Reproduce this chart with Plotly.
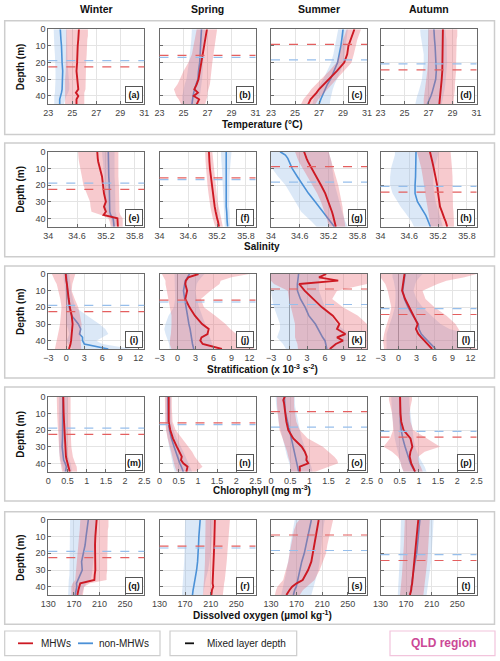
import plotly.graph_objects as go
from plotly.subplots import make_subplots

W, H = 500, 661

depth = [0, 2, 4, 6, 10, 15, 20, 25, 30, 33, 36, 38, 40, 42, 45]
seasons = ["Winter", "Spring", "Summer", "Autumn"]
panel_tags = "abcdefghijklmnopqrst"

# mixed layer depth (m) per season
mld_mhw = [22.6, 15.7, 9.0, 24.3]
mld_non = [18.8, 16.8, 18.3, 20.8]

# ---- temperature (degC)
temp_mhw = [
    [25.55, 25.55, 25.5, 25.5, 25.45, 25.45, 25.4, 25.35, 25.4, 25.45, 25.5, 25.3, 25.5, 25.35, 25.35],
    [26.95, 26.9, 26.85, 26.8, 26.7, 26.6, 26.5, 26.35, 26.25, 26.1, 25.9, 26.2, 25.85, 26.3, 26.1],
    [29.95, 29.85, 29.75, 29.65, 29.45, 29.35, 29.1, 28.5, 27.8, 27.4, 27.0, 26.8, 26.55, 26.3, 26.1],
    [28.2, 28.2, 28.2, 28.2, 28.2, 28.2, 28.2, 28.15, 28.1, 28.05, 28.0, 28.0, 27.95, 27.95, 27.9],
]
temp_mhw_lo = [
    [24.5, 24.5, 24.5, 24.5, 24.5, 24.5, 24.45, 24.45, 24.4, 24.4, 24.4, 24.4, 24.4, 24.4, 24.4],
    [26.1, 26.05, 26.0, 25.95, 25.85, 25.7, 25.4, 25.0, 24.7, 24.5, 24.2, 24.3, 24.4, 24.6, 24.8],
    [29.3, 29.2, 29.1, 29.0, 28.85, 28.7, 28.45, 27.85, 27.15, 26.75, 26.35, 26.15, 25.95, 25.7, 25.5],
    [27.0, 27.0, 27.0, 27.0, 27.0, 27.0, 26.95, 26.9, 26.8, 26.75, 26.7, 26.7, 26.65, 26.6, 26.6],
]
temp_mhw_hi = [
    [26.3, 26.3, 26.3, 26.25, 26.2, 26.2, 26.15, 26.1, 26.1, 26.1, 26.1, 26.0, 26.05, 26.0, 26.0],
    [27.8, 27.8, 27.75, 27.7, 27.6, 27.5, 27.4, 27.3, 27.25, 27.2, 27.1, 27.0, 27.0, 26.9, 26.8],
    [30.5, 30.4, 30.3, 30.2, 30.05, 29.9, 29.7, 29.1, 28.45, 28.05, 27.65, 27.45, 27.2, 26.95, 26.7],
    [29.4, 29.4, 29.4, 29.35, 29.35, 29.3, 29.3, 29.3, 29.25, 29.2, 29.2, 29.15, 29.15, 29.1, 29.1],
]
temp_non = [
    [24.0, 24.0, 24.0, 24.05, 24.1, 24.1, 24.15, 24.2, 24.2, 24.2, 24.15, 24.1, 24.0, 23.95, 23.95],
    [26.5, 26.5, 26.48, 26.45, 26.42, 26.4, 26.35, 26.25, 26.2, 26.05, 25.9, 25.85, 25.8, 25.75, 25.7],
    [29.0, 28.98, 28.95, 28.9, 28.82, 28.7, 28.55, 28.25, 27.95, 27.7, 27.5, 27.35, 27.25, 27.15, 27.0],
    [27.45, 27.45, 27.45, 27.5, 27.55, 27.6, 27.65, 27.65, 27.6, 27.5, 27.4, 27.3, 27.2, 27.1, 26.9],
]
temp_non_lo = [
    [23.45, 23.45, 23.45, 23.5, 23.5, 23.55, 23.6, 23.6, 23.6, 23.6, 23.6, 23.55, 23.5, 23.5, 23.5],
    [25.7, 25.7, 25.7, 25.65, 25.6, 25.55, 25.45, 25.35, 25.25, 25.1, 25.0, 24.95, 24.9, 24.9, 24.9],
    [28.6, 28.55, 28.5, 28.45, 28.35, 28.2, 28.0, 27.7, 27.35, 27.1, 26.9, 26.75, 26.65, 26.55, 26.45],
    [26.3, 26.3, 26.35, 26.4, 26.5, 26.6, 26.6, 26.55, 26.45, 26.35, 26.25, 26.15, 26.05, 26.0, 25.9],
]
temp_non_hi = [
    [24.55, 24.55, 24.55, 24.55, 24.55, 24.6, 24.6, 24.65, 24.7, 24.75, 24.75, 24.65, 24.5, 24.4, 24.3],
    [26.8, 26.8, 26.8, 26.75, 26.75, 26.7, 26.65, 26.6, 26.55, 26.5, 26.45, 26.4, 26.35, 26.3, 26.3],
    [29.4, 29.4, 29.35, 29.3, 29.25, 29.15, 29.05, 28.8, 28.5, 28.3, 28.15, 28.05, 28.0, 27.95, 27.9],
    [28.4, 28.4, 28.45, 28.5, 28.5, 28.55, 28.55, 28.5, 28.45, 28.4, 28.35, 28.3, 28.25, 28.2, 28.1],
]

# ---- salinity
sal_mhw = [
    [35.02, 35.02, 35.03, 35.04, 35.07, 35.12, 35.14, 35.16, 35.2, 35.16, 35.2, 35.15, 35.44, 35.45, 35.45],
    [35.03, 35.03, 35.04, 35.04, 35.05, 35.07, 35.09, 35.11, 35.13, 35.15, 35.17, 35.18, 35.2, 35.22, 35.24],
    [34.69, 34.71, 34.74, 34.77, 34.85, 34.94, 35.04, 35.13, 35.2, 35.23, 35.27, 35.29, 35.31, 35.33, 35.35],
    [35.03, 35.05, 35.06, 35.08, 35.11, 35.15, 35.18, 35.2, 35.22, 35.24, 35.28, 35.3, 35.33, 35.36, 35.39],
]
sal_mhw_lo = [
    [34.62, 34.62, 34.63, 34.64, 34.66, 34.7, 34.73, 34.8, 34.87, 34.88, 34.9, 35.1, 35.25, 35.28, 35.3],
    [34.95, 34.95, 34.96, 34.96, 34.97, 34.98, 35.0, 35.02, 35.04, 35.06, 35.08, 35.09, 35.11, 35.13, 35.16],
    [34.5, 34.52, 34.55, 34.58, 34.66, 34.76, 34.86, 34.96, 35.04, 35.08, 35.12, 35.14, 35.16, 35.18, 35.2],
    [34.76, 34.78, 34.8, 34.82, 34.85, 34.88, 34.9, 34.93, 34.96, 34.98, 35.0, 35.01, 35.02, 35.03, 35.04],
]
sal_mhw_hi = [
    [35.46, 35.46, 35.46, 35.46, 35.46, 35.46, 35.47, 35.47, 35.48, 35.48, 35.48, 35.5, 35.55, 35.55, 35.55],
    [35.1, 35.1, 35.11, 35.12, 35.13, 35.15, 35.17, 35.19, 35.21, 35.23, 35.25, 35.26, 35.28, 35.3, 35.32],
    [35.2, 35.22, 35.24, 35.26, 35.3, 35.35, 35.4, 35.44, 35.47, 35.49, 35.5, 35.51, 35.52, 35.53, 35.55],
    [35.46, 35.47, 35.48, 35.48, 35.49, 35.5, 35.5, 35.5, 35.51, 35.51, 35.52, 35.52, 35.53, 35.53, 35.53],
]
sal_non = [
    [35.25, 35.25, 35.25, 35.25, 35.26, 35.26, 35.27, 35.27, 35.28, 35.28, 35.28, 35.3, 35.35, 35.36, 35.37],
    [35.39, 35.39, 35.39, 35.39, 35.38, 35.38, 35.38, 35.38, 35.39, 35.39, 35.4, 35.4, 35.41, 35.41, 35.42],
    [34.19, 34.3, 34.35, 34.38, 34.44, 34.55, 34.67, 34.78, 34.92, 35.0, 35.08, 35.13, 35.18, 35.24, 35.32],
    [34.74, 34.74, 34.74, 34.74, 34.74, 34.73, 34.72, 34.72, 34.77, 34.84, 34.9, 34.94, 34.97, 35.0, 35.04],
]
sal_non_lo = [
    [35.12, 35.12, 35.13, 35.14, 35.15, 35.16, 35.17, 35.18, 35.18, 35.18, 35.2, 35.25, 35.3, 35.31, 35.32],
    [35.28, 35.28, 35.28, 35.29, 35.3, 35.31, 35.32, 35.33, 35.34, 35.34, 35.35, 35.35, 35.36, 35.36, 35.36],
    [34.0, 34.0, 34.0, 34.0, 34.02, 34.15, 34.3, 34.4, 34.5, 34.56, 34.63, 34.7, 34.78, 34.85, 34.95],
    [34.3, 34.3, 34.28, 34.26, 34.22, 34.2, 34.2, 34.25, 34.35, 34.42, 34.5, 34.55, 34.6, 34.65, 34.7],
]
sal_non_hi = [
    [35.38, 35.38, 35.38, 35.38, 35.38, 35.38, 35.39, 35.39, 35.4, 35.4, 35.4, 35.42, 35.42, 35.42, 35.42],
    [35.5, 35.5, 35.49, 35.48, 35.47, 35.46, 35.45, 35.45, 35.45, 35.45, 35.46, 35.46, 35.47, 35.47, 35.47],
    [35.2, 35.22, 35.24, 35.26, 35.28, 35.3, 35.33, 35.37, 35.42, 35.45, 35.48, 35.5, 35.52, 35.55, 35.6],
    [35.2, 35.2, 35.18, 35.16, 35.12, 35.1, 35.1, 35.12, 35.15, 35.18, 35.2, 35.22, 35.25, 35.27, 35.3],
]

# ---- stratification (x 10^-3 s^-2)
strat_mhw = [
    [-0.1, -0.1, 0.0, 0.1, 0.2, 0.4, 0.6, 0.9, 1.05, 1.0, 0.9, 0.85, 0.8, 0.7, 0.45],
    [3.5, 1.8, 1.4, 1.3, 1.6, 1.3, 2.0, 2.9, 4.1, 5.2, 5.0, 4.0, 3.8, 4.2, 7.4],
    [6.2, 5.0, 8.2, 1.7, 2.6, 4.0, 5.5, 7.3, 8.4, 8.0, 9.4, 8.0, 9.0, 7.8, 6.8],
    [1.0, 0.9, 0.8, 0.7, 0.6, 1.1, 1.8, 2.6, 3.2, 2.9, 3.3, 3.8, 4.3, 4.8, 5.6],
]
strat_mhw_lo = [
    [-2.4, -2.2, -1.9, -1.6, -1.3, -1.0, -0.8, -0.9, -1.05, -1.2, -1.4, -1.5, -1.6, -1.7, -1.9],
    [-2.6, -2.3, -2.0, -2.0, -1.8, -1.5, -1.2, -1.0, -1.0, -1.0, -1.1, -1.2, -1.3, -1.3, -1.0],
    [-3.0, -3.0, -3.0, -2.5, -0.2, 0.0, 0.3, 0.7, 1.0, 1.0, 1.0, 1.0, 1.2, 1.4, 1.5],
    [-3.0, -3.0, -2.6, -2.2, -1.8, -1.5, -1.2, -1.5, -2.0, -2.2, -2.4, -2.5, -2.6, -2.5, -2.4],
]
strat_mhw_hi = [
    [1.5, 1.4, 1.2, 1.0, 0.9, 1.4, 2.0, 2.3, 2.55, 2.5, 2.4, 2.35, 2.3, 2.4, 2.5],
    [12.0, 9.0, 7.2, 7.0, 5.5, 3.9, 4.4, 6.3, 8.0, 8.8, 9.8, 10.5, 11.2, 11.8, 12.8],
    [13.0, 13.0, 13.0, 13.0, 8.0, 7.2, 9.0, 11.5, 13.0, 13.0, 13.0, 13.0, 13.0, 13.0, 13.0],
    [13.0, 11.0, 8.0, 6.5, 4.0, 4.5, 6.0, 8.0, 9.5, 10.0, 10.5, 10.5, 11.0, 12.0, 13.0],
]
strat_non = [
    [0.0, 0.0, 0.05, 0.1, 0.2, 0.35, 0.5, 0.9, 2.0, 2.4, 2.2, 2.7, 2.7, 3.0, 7.0],
    [2.0, 1.6, 1.3, 1.2, 1.0, 1.2, 1.4, 1.6, 1.9, 2.1, 2.2, 2.3, 2.4, 2.5, 2.7],
    [1.6, 1.5, 1.4, 1.4, 1.4, 1.9, 2.7, 3.3, 4.4, 4.8, 5.3, 5.6, 6.0, 6.1, 6.3],
    [1.1, 1.0, 0.9, 0.8, 0.7, 1.0, 1.6, 2.4, 3.3, 3.4, 3.8, 4.3, 4.8, 5.3, 6.2],
]
strat_non_lo = [
    [-0.5, -0.5, -0.4, -0.3, -0.2, -0.1, 0.0, 0.0, 0.0, 0.3, 0.5, 0.3, 0.0, 0.3, 1.0],
    [-0.5, -0.5, -0.5, -0.5, -0.5, -0.4, -0.6, -1.5, -2.0, -2.2, -2.0, -1.8, -1.5, -1.4, -1.3],
    [-3.0, -3.0, -3.0, -3.0, -3.0, -2.8, -2.5, -2.0, -1.5, -1.5, -1.8, -2.0, -1.5, -1.0, -0.5],
    [-1.0, -1.0, -0.8, -0.7, -0.5, -0.5, -0.6, -1.0, -1.5, -1.8, -2.0, -2.0, -2.0, -2.0, -2.0],
]
strat_non_hi = [
    [0.5, 0.5, 0.6, 0.7, 0.8, 1.1, 1.5, 3.5, 5.5, 6.5, 7.0, 6.0, 5.0, 6.0, 11.0],
    [4.5, 4.0, 3.5, 3.2, 3.0, 3.2, 3.6, 4.0, 4.5, 4.8, 5.2, 5.4, 5.6, 5.8, 6.0],
    [6.0, 5.5, 5.0, 5.0, 5.0, 5.5, 6.0, 7.0, 8.0, 9.0, 10.0, 10.5, 11.0, 11.5, 12.0],
    [4.0, 3.5, 3.0, 2.8, 2.5, 3.0, 4.0, 5.5, 7.0, 8.5, 11.5, 12.0, 12.5, 12.5, 12.0],
]

# ---- chlorophyll (mg m^-3)
chl_mhw = [
    [0.39, 0.39, 0.39, 0.39, 0.4, 0.41, 0.42, 0.43, 0.44, 0.45, 0.46, 0.48, 0.5, 0.53, 0.56],
    [0.24, 0.24, 0.23, 0.23, 0.23, 0.24, 0.28, 0.35, 0.45, 0.52, 0.58, 0.56, 0.62, 0.73, 0.7],
    [0.36, 0.32, 0.34, 0.35, 0.36, 0.4, 0.45, 0.58, 0.8, 0.88, 0.93, 0.92, 0.97, 0.75, 0.75],
    [0.51, 0.51, 0.51, 0.51, 0.52, 0.54, 0.6, 0.78, 0.83, 0.78, 0.76, 0.78, 0.8, 0.84, 0.9],
]
chl_mhw_lo = [
    [0.22, 0.22, 0.22, 0.22, 0.23, 0.24, 0.25, 0.26, 0.27, 0.28, 0.29, 0.3, 0.32, 0.34, 0.36],
    [0.14, 0.14, 0.14, 0.14, 0.14, 0.15, 0.17, 0.21, 0.27, 0.3, 0.33, 0.35, 0.38, 0.4, 0.45],
    [0.15, 0.15, 0.15, 0.16, 0.18, 0.2, 0.22, 0.3, 0.38, 0.42, 0.45, 0.47, 0.5, 0.5, 0.5],
    [0.22, 0.22, 0.24, 0.26, 0.3, 0.32, 0.33, 0.25, 0.08, 0.3, 0.45, 0.5, 0.52, 0.55, 0.6],
]
chl_mhw_hi = [
    [0.58, 0.58, 0.58, 0.58, 0.58, 0.58, 0.58, 0.59, 0.6, 0.62, 0.64, 0.66, 0.7, 0.74, 0.75],
    [0.32, 0.32, 0.32, 0.32, 0.32, 0.34, 0.42, 0.58, 0.75, 0.85, 0.92, 0.98, 1.05, 1.12, 0.95],
    [0.6, 0.6, 0.6, 0.6, 0.62, 0.66, 0.75, 0.95, 1.35, 1.5, 1.65, 1.72, 1.75, 1.5, 1.15],
    [0.82, 0.82, 0.8, 0.78, 0.76, 0.78, 0.85, 1.2, 1.55, 1.15, 0.98, 0.98, 1.0, 1.05, 1.1],
]
chl_non = [
    [0.38, 0.38, 0.38, 0.38, 0.38, 0.38, 0.38, 0.37, 0.36, 0.37, 0.38, 0.4, 0.44, 0.47, 0.45],
    [0.22, 0.22, 0.22, 0.22, 0.22, 0.23, 0.26, 0.31, 0.38, 0.42, 0.47, 0.5, 0.53, 0.57, 0.62],
    [0.35, 0.35, 0.35, 0.36, 0.38, 0.42, 0.48, 0.53, 0.58, 0.61, 0.64, 0.66, 0.68, 0.7, 0.72],
    [0.51, 0.51, 0.51, 0.51, 0.51, 0.52, 0.54, 0.58, 0.64, 0.68, 0.72, 0.75, 0.78, 0.82, 0.9],
]
chl_non_lo = [
    [0.28, 0.28, 0.28, 0.28, 0.28, 0.28, 0.28, 0.27, 0.27, 0.28, 0.3, 0.32, 0.35, 0.38, 0.4],
    [0.16, 0.16, 0.16, 0.16, 0.16, 0.16, 0.18, 0.21, 0.25, 0.28, 0.3, 0.32, 0.34, 0.36, 0.4],
    [0.12, 0.12, 0.13, 0.14, 0.16, 0.2, 0.25, 0.3, 0.35, 0.38, 0.42, 0.45, 0.48, 0.5, 0.52],
    [0.28, 0.28, 0.28, 0.29, 0.3, 0.32, 0.34, 0.37, 0.42, 0.45, 0.48, 0.5, 0.52, 0.55, 0.6],
]
chl_non_hi = [
    [0.5, 0.5, 0.5, 0.5, 0.5, 0.5, 0.5, 0.49, 0.49, 0.5, 0.52, 0.55, 0.58, 0.6, 0.62],
    [0.3, 0.3, 0.3, 0.3, 0.3, 0.31, 0.36, 0.45, 0.55, 0.62, 0.68, 0.72, 0.76, 0.8, 0.85],
    [0.62, 0.62, 0.62, 0.63, 0.65, 0.7, 0.75, 0.8, 0.88, 0.93, 0.98, 1.0, 1.02, 1.05, 1.08],
    [0.75, 0.75, 0.75, 0.76, 0.78, 0.8, 0.83, 0.86, 0.9, 0.95, 1.0, 1.05, 1.1, 1.15, 1.2],
]

# ---- dissolved oxygen (umol kg^-1)
oxy_mhw = [
    [205.5, 205, 204.5, 204, 203.5, 203, 203, 204, 203.5, 202.5, 202, 180, 178, 177, 175.5],
    [216.5, 216.5, 216.5, 216.5, 216, 215.5, 215, 214.5, 214, 213.5, 213, 213, 214, 212, 211],
    [204.5, 203.5, 202.5, 202, 200, 197.5, 195.5, 193, 188, 184, 179.5, 170, 163, 159, 154],
    [189, 188.5, 188, 187.5, 187, 186, 184.5, 183, 181.5, 181, 180, 179.5, 178.5, 178, 176],
]
oxy_mhw_lo = [
    [180, 180, 180, 179, 178, 177, 176, 175, 174, 173, 172, 168, 166, 166, 166],
    [202, 202, 202, 202, 202, 202, 201.5, 201, 200.5, 200, 199.5, 199, 198.5, 198, 198],
    [174, 170, 168, 166, 164, 161, 159, 157, 154, 151, 149, 145, 140, 138, 136],
    [168, 168, 167.5, 167, 167, 166.5, 166, 165, 164, 163.5, 163, 162, 161.5, 161, 160.5],
]
oxy_mhw_hi = [
    [224, 224, 224, 223, 222, 222, 222, 222, 222, 221, 221, 195, 186, 185, 184],
    [240, 240, 240, 239, 238, 237, 236, 235, 234, 233, 232, 231, 230, 229.5, 229],
    [227, 226, 225, 224, 221, 218, 216, 211, 206, 202, 198, 192, 186, 180, 175],
    [207, 207, 207, 206, 206, 205, 204, 203, 202, 201, 200, 199, 198.5, 198, 197],
]
oxy_non = [
    [192.5, 192, 191.5, 191, 189, 187.5, 185, 182, 183, 180, 176, 174, 174.5, 173.5, 172],
    [193.5, 193, 192.5, 192, 191.5, 191, 190.5, 189.5, 188, 187, 185.5, 184.5, 183.5, 182.5, 181.5],
    [193, 192, 191, 190, 188, 185, 182, 178, 175, 173, 171.5, 170.5, 169.5, 167, 165],
    [191.5, 191, 190.5, 190, 189, 188, 186.5, 184, 181.5, 180.5, 179.5, 179, 178.5, 177.5, 176],
]
oxy_non_lo = [
    [164, 164, 164, 164, 164, 164, 164, 164, 163, 163, 162, 162, 161, 161, 161],
    [170, 170, 170, 170, 170, 169.5, 169, 168.5, 168, 167.5, 167, 166.5, 166, 165.5, 165],
    [167, 166, 165, 164, 162, 160, 159, 157, 155, 153, 151, 150, 149, 148, 146],
    [162, 162, 162, 162, 161.5, 161, 160.5, 160, 159.5, 159, 158.5, 158, 158, 157.5, 157],
]
oxy_non_hi = [
    [206, 206, 205, 205, 204, 203, 202, 200, 199, 198, 196, 190, 186, 184, 182],
    [214, 214, 214, 213, 212, 211, 210, 208, 206, 204, 202, 201, 200, 199, 198],
    [214, 213, 212, 211, 210, 209, 208, 206, 204, 202, 200, 198, 197, 195, 193],
    [213, 213, 212.5, 212, 211.5, 211, 210, 209, 208, 207, 206, 205, 204, 203, 202],
]

temp_ticks = [23, 25, 27, 29, 31]
sal_ticks = [34, 34.6, 35.2, 35.8]
strat_ticks = [-3, 0, 3, 6, 9, 12]
chl_ticks = [0, 0.5, 1, 1.5, 2, 2.5]
oxy_ticks = [130, 170, 210, 250]
depth_ticks = [0, 10, 20, 30, 40]

RED = "rgb(205,25,35)"
BLUE = "rgb(75,145,215)"
RED_FILL = "rgba(232,95,105,0.33)"
BLUE_FILL = "rgba(135,180,230,0.30)"
RED_DASH = "rgb(228,95,95)"
BLUE_DASH = "rgb(150,190,235)"
FONT = "Liberation Sans, Arial, sans-serif"

variables = [
    (temp_mhw, temp_mhw_lo, temp_mhw_hi, temp_non, temp_non_lo, temp_non_hi,
     temp_ticks, [23, 31], "Temperature (°C)"),
    (sal_mhw, sal_mhw_lo, sal_mhw_hi, sal_non, sal_non_lo, sal_non_hi,
     sal_ticks, [34, 36], "Salinity"),
    (strat_mhw, strat_mhw_lo, strat_mhw_hi, strat_non, strat_non_lo, strat_non_hi,
     strat_ticks, [-3, 13], "Stratification (x 10<sup>-3</sup> s<sup>-2</sup>)"),
    (chl_mhw, chl_mhw_lo, chl_mhw_hi, chl_non, chl_non_lo, chl_non_hi,
     chl_ticks, [0, 2.5], "Chlorophyll (mg m<sup>-3</sup>)"),
    (oxy_mhw, oxy_mhw_lo, oxy_mhw_hi, oxy_non, oxy_non_lo, oxy_non_hi,
     oxy_ticks, [130, 280], "Dissolved oxygen (µmol kg<sup>-1</sup>)"),
]

# pixel layout
col_left = [48.3, 159.5, 271.0, 380.5]
pw, ph = 96, 75
row_top = [29.3, 151.7, 274.0, 396.7, 520.0]
row_box = [(20.7, 134.5), (143.0, 256.7), (266.0, 378.0), (387.0, 501.0), (511.7, 624.3)]
xtitle_y = [125, 246.7, 368.7, 490, 615]


def px(x):
    return x / W


def py(y):
    return 1 - y / H


def label(text, x, y, size=10, color="#111", anchor="center", angle=0):
    fig.add_annotation(text=text, xref="paper", yref="paper", x=px(x), y=py(y),
                       xanchor=anchor, yanchor="middle", textangle=angle,
                       showarrow=False, font=dict(size=size, color=color, family=FONT))


fig = make_subplots(rows=5, cols=4)

for r, (m, mlo, mhi, n, nlo, nhi, ticks, xr, xtitle) in enumerate(variables):
    for c in range(4):
        row, col = r + 1, c + 1
        yy = depth + depth[::-1]
        fig.add_trace(go.Scatter(x=nlo[c] + nhi[c][::-1], y=yy, fill="toself",
                                 fillcolor=BLUE_FILL, line=dict(width=0),
                                 mode="lines", hoverinfo="skip", showlegend=False),
                      row=row, col=col)
        fig.add_trace(go.Scatter(x=n[c], y=depth, mode="lines",
                                 line=dict(color=BLUE, width=1.6), showlegend=False),
                      row=row, col=col)
        fig.add_trace(go.Scatter(x=mlo[c] + mhi[c][::-1], y=yy, fill="toself",
                                 fillcolor=RED_FILL, line=dict(width=0),
                                 mode="lines", hoverinfo="skip", showlegend=False),
                      row=row, col=col)
        fig.add_trace(go.Scatter(x=m[c], y=depth, mode="lines",
                                 line=dict(color=RED, width=1.9), showlegend=False),
                      row=row, col=col)
        fig.add_hline(y=mld_non[c], line=dict(color=BLUE_DASH, width=1.2, dash="dash"),
                      row=row, col=col)
        fig.add_hline(y=mld_mhw[c], line=dict(color=RED_DASH, width=1.2, dash="dash"),
                      row=row, col=col)

        x0 = col_left[c]
        t = row_top[r]
        fig.update_xaxes(domain=[px(x0), px(x0 + pw)], range=xr, tickvals=ticks,
                         automargin=False,
                         showgrid=True, gridcolor="#e4e4e4", gridwidth=0.8,
                         zeroline=(r == 2), zerolinecolor="#9a9a9a", zerolinewidth=1,
                         showline=True, linecolor="#6a6a6a", linewidth=1, mirror=True,
                         ticks="inside", ticklen=3, tickcolor="#6a6a6a",
                         tickfont=dict(size=9, color="#444", family=FONT),
                         row=row, col=col)
        fig.update_yaxes(domain=[py(t + ph), py(t)], range=[45, 0], tickvals=depth_ticks,
                         automargin=False,
                         showgrid=True, gridcolor="#e4e4e4", gridwidth=0.8, zeroline=False,
                         showline=True, linecolor="#6a6a6a", linewidth=1, mirror=True,
                         ticks="inside", ticklen=3, tickcolor="#6a6a6a",
                         showticklabels=(c == 0),
                         tickfont=dict(size=9, color="#444", family=FONT),
                         row=row, col=col)
        fig.add_annotation(text="<b>(%s)</b>" % panel_tags[r * 4 + c],
                           xref="x domain", yref="y domain", x=1 - 1.2 / pw, y=1.2 / ph,
                           xanchor="right", yanchor="bottom", showarrow=False,
                           bgcolor="white", bordercolor="#555", borderwidth=1,
                           borderpad=1, width=14, height=13,
                           font=dict(size=9, color="#111", family=FONT),
                           row=row, col=col)

    # row frame, depth label, x title
    b0, b1 = row_box[r]
    fig.add_shape(type="rect", xref="paper", yref="paper", x0=px(4.7), x1=px(494.5),
                  y0=py(b1), y1=py(b0), line=dict(color="#cdcdcd", width=1.5),
                  fillcolor="rgba(0,0,0,0)", layer="below")
    label("<b>Depth (m)</b>", 20.5, row_top[r] + ph / 2, angle=-90)
    label("<b>%s</b>" % xtitle, 262.4, xtitle_y[r])

for c, s in enumerate(seasons):
    label("<b>%s</b>" % s, col_left[c] + pw / 2, 8.5, size=10.5)

# legend boxes at the bottom
ly = 643.3
for (a, b, col) in [(4.7, 160, "#cdcdcd"), (170, 296.7, "#cdcdcd"), (390, 495, "#f2c4dc")]:
    fig.add_shape(type="rect", xref="paper", yref="paper", x0=px(a), x1=px(b),
                  y0=py(655.7), y1=py(631), line=dict(color=col, width=1.2))
for (a, b, colr, dash, text, tx) in [(18, 33, RED, "solid", "MHWs", 39),
                                     (78, 93, BLUE, "solid", "non-MHWs", 97),
                                     (185, 200, "#111", "dash", "Mixed layer depth", 205)]:
    fig.add_shape(type="line", xref="paper", yref="paper", x0=px(a), x1=px(b),
                  y0=py(ly), y1=py(ly), line=dict(color=colr, width=1.8, dash=dash))
    label(text, tx, ly, color="#222", anchor="left")
label("<b>QLD region</b>", 443, ly, size=12, color="rgb(204,72,150)")

fig.update_layout(template="none", width=W, height=H,
                  margin=dict(l=0, r=0, t=0, b=0, pad=0, autoexpand=False),
                  paper_bgcolor="white", plot_bgcolor="white", showlegend=False,
                  font=dict(family=FONT))

fig.write_html("out.html", config={"displayModeBar": False},
               post_script="document.body.style.margin='0px';")
